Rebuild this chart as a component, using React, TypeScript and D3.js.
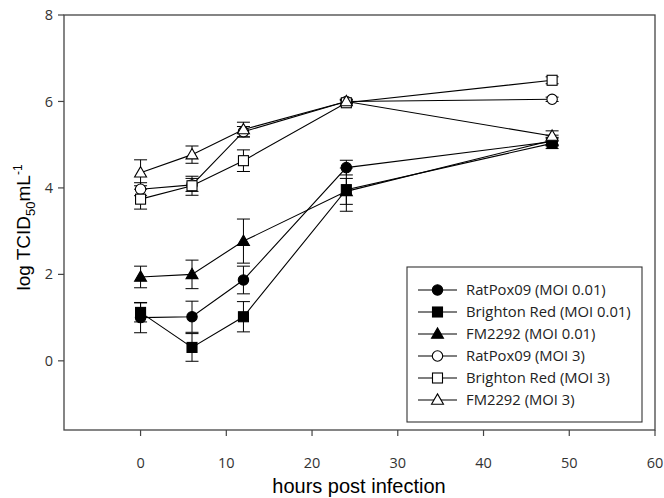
import React from "react";
import * as d3 from "d3";

const hours = [0, 6, 12, 24, 48];
const xTicks = [0, 10, 20, 30, 40, 50, 60];
const yTicks = [0, 2, 4, 6, 8];

const seriesNames = [
  "RatPox09 (MOI 0.01)",
  "Brighton Red (MOI 0.01)",
  "FM2292 (MOI 0.01)",
  "RatPox09 (MOI 3)",
  "Brighton Red (MOI 3)",
  "FM2292 (MOI 3)",
];
const seriesShapes = ["circle", "square", "triangle", "circle", "square", "triangle"];
const seriesFilled = [true, true, true, false, false, false];

const ratpox001 = [1.0, 1.02, 1.87, 4.47, 5.07];
const ratpox001Err = [0.35, 0.36, 0.32, 0.17, 0.1];
const brighton001 = [1.12, 0.31, 1.02, 3.96, 5.03];
const brighton001Err = [0.22, 0.32, 0.35, 0.5, 0.12];
const fm001 = [1.94, 2.0, 2.77, 3.92, 5.1];
const fm001Err = [0.25, 0.33, 0.51, 0.3, 0.12];
const ratpox3 = [3.97, 4.07, 5.3, 6.0, 6.05];
const ratpox3Err = [0.15, 0.15, 0.12, 0.05, 0.05];
const brighton3 = [3.74, 4.05, 4.63, 5.97, 6.49];
const brighton3Err = [0.23, 0.22, 0.25, 0.05, 0.08];
const fm3 = [4.35, 4.77, 5.35, 6.0, 5.2];
const fm3Err = [0.3, 0.2, 0.17, 0.05, 0.12];

const seriesValues = [ratpox001, brighton001, fm001, ratpox3, brighton3, fm3];
const seriesErrors = [ratpox001Err, brighton001Err, fm001Err, ratpox3Err, brighton3Err, fm3Err];

const W = 664;
const H = 498;
const left = 64;
const right = 655;
const top = 15;
const bottom = 430;

const x = d3.scaleLinear().domain([-9, 60]).range([left - 0.6, right]);
const y = d3.scaleLinear().domain([-1.6, 8]).range([bottom, top]);

function Marker({ shape, filled, cx, cy }: { shape: string; filled: boolean; cx: number; cy: number }) {
  const fill = filled ? "#000" : "#fff";
  const sw = 1.1;
  if (shape === "circle") return <circle cx={cx} cy={cy} r={5.2} fill={fill} stroke="#000" strokeWidth={sw} />;
  if (shape === "square") return <rect x={cx - 5} y={cy - 5} width={10} height={10} fill={fill} stroke="#000" strokeWidth={sw} />;
  const s = d3.symbol(d3.symbolTriangle, 62)();
  return <path d={s || ""} transform={`translate(${cx},${cy + 0.8})`} fill={fill} stroke="#000" strokeWidth={sw} />;
}

export default function App() {
  const line = d3
    .line<number>()
    .x((_, i) => x(hours[i]))
    .y((d) => y(d));
  const tickFont = "'Open Sans', 'Noto Sans', sans-serif";
  const titleFont = "'Liberation Sans', Arial, sans-serif";
  const legX = 407;
  const legY = 267;
  const rowH = 22;
  return (
    <svg width={W} height={H} style={{ position: "absolute", left: 0, top: 0, background: "#fff" }}>
      <rect x={0} y={0} width={W} height={H} fill="#fff" />
      {/* frame */}
      <rect x={left} y={top} width={right - left} height={bottom - top} fill="none" stroke="#444" strokeWidth={1.3} />
      {/* y ticks */}
      {yTicks.map((t) => (
        <g key={"y" + t}>
          <line x1={left - 6} x2={left} y1={y(t)} y2={y(t)} stroke="#444" strokeWidth={1.2} />
          <text x={left - 11} y={y(t)} dy="0.35em" textAnchor="end" fontFamily={tickFont} fontSize={14.5} fill="#333">
            {t}
          </text>
        </g>
      ))}
      {/* x ticks */}
      {xTicks.map((t) => (
        <g key={"x" + t}>
          <line x1={x(t)} x2={x(t)} y1={bottom} y2={bottom + 6} stroke="#444" strokeWidth={1.2} />
          <text x={x(t)} y={bottom + 33} dy="0.35em" textAnchor="middle" fontFamily={tickFont} fontSize={14.5} fill="#333">
            {t}
          </text>
        </g>
      ))}
      {/* axis titles */}
      <text x={359} y={493} textAnchor="middle" fontFamily={titleFont} fontSize={20} fill="#000">
        hours post infection
      </text>
      <text
        transform={`translate(30, ${(top + bottom) / 2 + 5}) rotate(-90)`}
        textAnchor="middle"
        fontFamily={titleFont}
        fontSize={19}
        fill="#000"
      >
        log TCID
        <tspan fontSize={13} dy={5}>50</tspan>
        <tspan dy={-5}>mL</tspan>
        <tspan fontSize={12} dy={-8}>-1</tspan>
      </text>
      {/* error bars */}
      {seriesValues.map((vals, si) => (
        <g key={"e" + si}>
          {vals.map((v, i) => {
            const e = seriesErrors[si][i];
            const cx = x(hours[i]);
            return (
              <g key={i}>
                <line x1={cx} x2={cx} y1={y(v - e)} y2={y(v + e)} stroke="#000" strokeWidth={1} />
                <line x1={cx - 6.5} x2={cx + 6.5} y1={y(v - e)} y2={y(v - e)} stroke="#000" strokeWidth={1} />
                <line x1={cx - 6.5} x2={cx + 6.5} y1={y(v + e)} y2={y(v + e)} stroke="#000" strokeWidth={1} />
              </g>
            );
          })}
        </g>
      ))}
      {/* lines */}
      {seriesValues.map((vals, si) => (
        <path key={"l" + si} d={line(vals) || ""} fill="none" stroke="#000" strokeWidth={1.1} />
      ))}
      {/* markers */}
      {seriesValues.map((vals, si) => (
        <g key={"m" + si}>
          {vals.map((v, i) => (
            <Marker key={i} shape={seriesShapes[si]} filled={seriesFilled[si]} cx={x(hours[i])} cy={y(v)} />
          ))}
        </g>
      ))}
      {/* legend */}
      <rect x={legX} y={legY} width={235} height={155} fill="#fff" stroke="#333" strokeWidth={1.1} />
      {seriesNames.map((name, i) => {
        const cy = legY + 23 + i * rowH;
        return (
          <g key={"lg" + i}>
            <line x1={418} x2={457} y1={cy} y2={cy} stroke="#000" strokeWidth={1.1} />
            <Marker shape={seriesShapes[i]} filled={seriesFilled[i]} cx={437.5} cy={cy} />
            <text x={466} y={cy} dy="0.35em" fontFamily={tickFont} fontSize={14.8} fill="#222">
              {name}
            </text>
          </g>
        );
      })}
    </svg>
  );
}
